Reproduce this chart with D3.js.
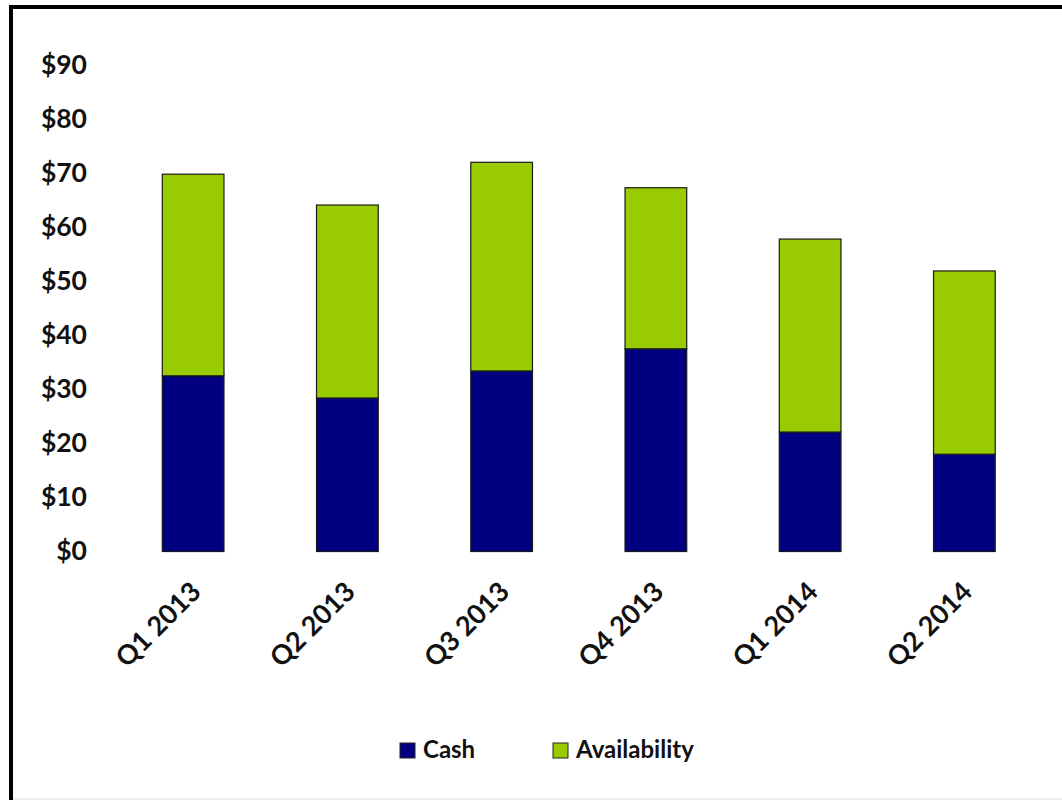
<!DOCTYPE html>
<html>
<head>
<meta charset="utf-8">
<script src="https://cdn.jsdelivr.net/npm/d3@7"></script>
<style>
  body { margin: 0; background: #fff; }
  text { font-family: Lato, "Open Sans", sans-serif; font-weight: bold; fill: #111; }
</style>
</head>
<body>
<div id="d3"></div>
<script>
// data
const quarters = ["Q1 2013", "Q2 2013", "Q3 2013", "Q4 2013", "Q1 2014", "Q2 2014"];
const cash = [32.5, 28.4, 33.4, 37.5, 22.1, 18.0];
const availability = [37.3, 35.7, 38.6, 29.8, 35.7, 33.9];
const yTicks = [0, 10, 20, 30, 40, 50, 60, 70, 80, 90];
const seriesNames = ["Cash", "Availability"];

const W = 1062, H = 800;

const svg = d3
  .select("#d3")
  .append("svg")
  .attr("width", W)
  .attr("height", H);

// outer frame (thick black on top/left, cut off at right/bottom)
svg
  .append("rect")
  .attr("x", 11)
  .attr("y", 7)
  .attr("width", W + 20)
  .attr("height", H + 20)
  .attr("fill", "#fff")
  .attr("stroke", "#000")
  .attr("stroke-width", 4);
svg
  .append("line")
  .attr("x1", 13).attr("x2", W)
  .attr("y1", 799).attr("y2", 799)
  .attr("stroke", "#ddd");

const rows = quarters.map((q, i) => ({ q: q, Cash: cash[i], Availability: availability[i] }));
const stacked = d3.stack().keys(seriesNames)(rows);

const x = d3.scaleBand().domain(quarters).range([116, 1041.5]).paddingInner(0.6).paddingOuter(0.3);
const y = d3.scaleLinear().domain([0, 90]).range([551.5, 65]);

const color = d3.scaleOrdinal().domain(seriesNames).range(["#000080", "#99cc00"]);

// Y axis labels only
const yAxis = svg
  .append("g")
  .attr("transform", "translate(87,0)")
  .call(d3.axisLeft(y).tickValues(yTicks).tickFormat((d) => "$" + d).tickSize(0).tickPadding(0));
yAxis.select(".domain").remove();
yAxis.selectAll("text").style("font-size", "26.5px").style("font-family", null);

// bars
svg
  .append("g")
  .selectAll("g")
  .data(stacked)
  .join("g")
  .attr("fill", (d) => color(d.key))
  .selectAll("rect")
  .data((d) => d)
  .join("rect")
  .attr("x", (d) => x(d.data.q))
  .attr("y", (d) => y(d[1]))
  .attr("height", (d) => y(d[0]) - y(d[1]))
  .attr("width", x.bandwidth())
  .attr("stroke", "#1a1a1a")
  .attr("stroke-width", 1.2);

// X axis labels, rotated
const xAxis = svg
  .append("g")
  .attr("transform", "translate(0,566)")
  .call(d3.axisBottom(x).tickSize(0).tickPadding(0));
xAxis.select(".domain").remove();
xAxis
  .selectAll("text")
  .style("font-size", "27px")
  .style("font-family", null)
  .attr("text-anchor", "end")
  .attr("dy", "0.7em")
  .attr("transform", "translate(-4,14) rotate(-45)");

// legend
const legendX = [400, 553];
const legend = svg
  .append("g")
  .selectAll("g")
  .data(seriesNames)
  .join("g")
  .attr("transform", (d, i) => `translate(${legendX[i]},743)`);
legend
  .append("rect")
  .attr("width", 15)
  .attr("height", 15)
  .attr("fill", (d) => color(d))
  .attr("stroke", "#222")
  .attr("stroke-width", 1);
legend
  .append("text")
  .attr("x", 23)
  .attr("y", 15)
  .style("font-size", "24px")
  .text((d) => d);
</script>
</body>
</html>
